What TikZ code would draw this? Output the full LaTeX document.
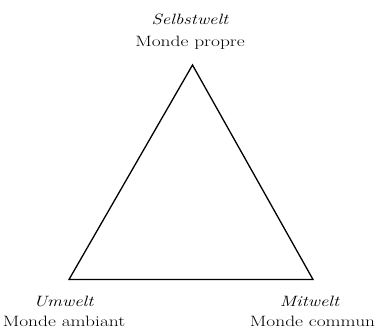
\documentclass[tikz,border=0pt]{standalone}
\usepackage{fontspec}
\tikzset{
  lab/.style={font=\fontsize{15}{17}\selectfont, xscale=1.3, anchor=base, inner sep=0pt},
  labit/.style={font=\fontsize{15}{17}\selectfont\itshape, xscale=1.25, anchor=base, inner sep=0pt},
  tri/.style={line width=1.3bp, line join=miter}
}
\begin{document}
\begin{tikzpicture}[x=1bp,y=-1bp]
\useasboundingbox (0,0) rectangle (377,330);
\coordinate (top) at (192.5,65);
\coordinate (bl) at (69,279.5);
\coordinate (br) at (313,279.5);
\draw[tri] (top) -- (bl) -- (br) -- cycle;
\node[labit] (selbst) at (190,24) {Selbstwelt};
\node[lab] (propre) at (190,46) {Monde propre};
\node[labit] (um) at (63.5,306) {Umwelt};
\node[lab] (ambiant) at (64,326) {Monde ambiant};
\node[labit] (mit) at (309.5,306) {Mitwelt};
\node[lab] (commun) at (312.5,326) {Monde commun};
\end{tikzpicture}
\end{document}
